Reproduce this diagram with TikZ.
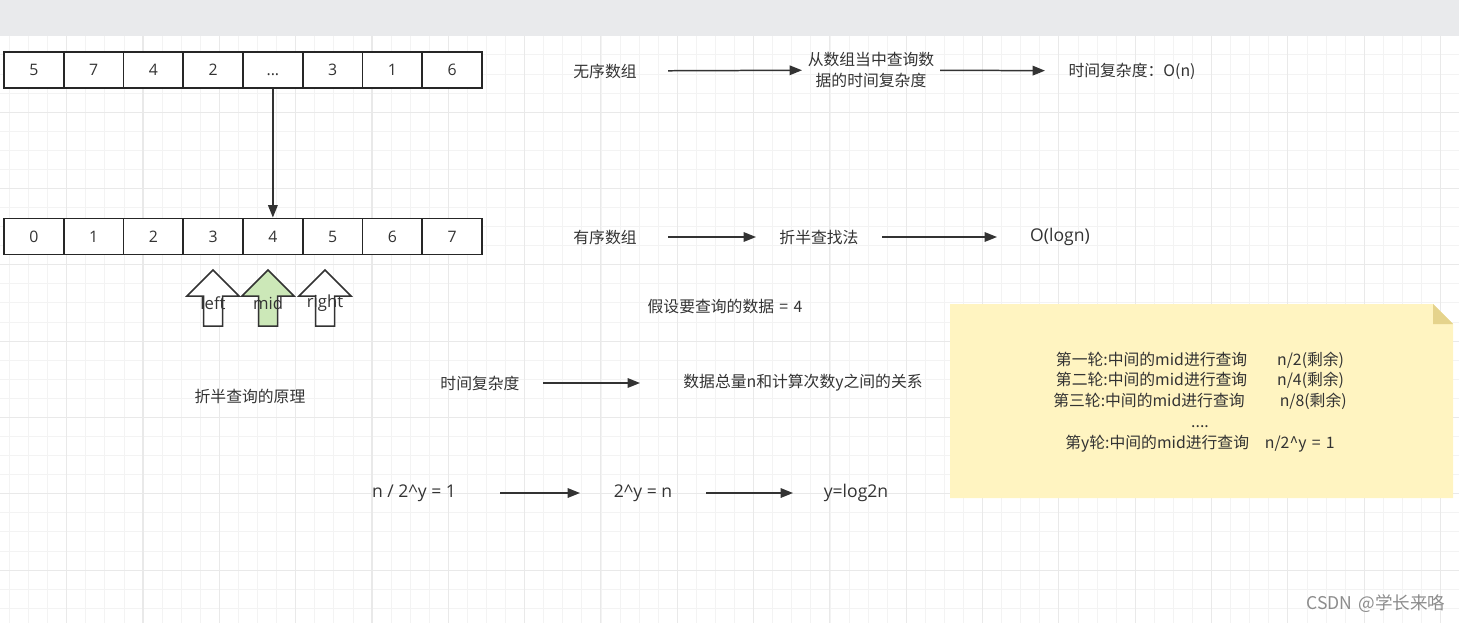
\documentclass[tikz,border=0pt]{standalone}
\usepackage{fontspec}
\setmainfont{Noto Sans CJK SC}[WordSpace=1.5]
\newfontfamily\latinfont{Open Sans}
\usepackage{xcolor}
\usepackage{tikz}
\usetikzlibrary{positioning, arrows.meta}

\definecolor{inkgray}{HTML}{333333}
\definecolor{cellline}{HTML}{262626}
\definecolor{topbar}{HTML}{E9EAEC}
\definecolor{gridminor}{HTML}{F3F3F3}
\definecolor{gridmajor}{HTML}{E9E9E9}
\definecolor{midgreen}{HTML}{CCE8B8}
\definecolor{notefill}{HTML}{FFF4C1}
\definecolor{notefold}{HTML}{E5D38C}
\definecolor{watermark}{HTML}{8C8C8C}

\def\gapcell{.\kern0pt.\kern0pt.}

\begin{document}
\begin{tikzpicture}[
    x=0.02cm, y=-0.02cm,
    font=\fontsize{9}{11.9}\selectfont,
    text=inkgray,
    cell/.style={
        draw=cellline,
        line width=1.1pt,
        fill=white,
        minimum width=1.195cm,
        minimum height=0.72cm,
        inner sep=0pt,
        font=\latinfont\fontsize{9}{10}\selectfont
    },
    lbl/.style={
        minimum width=#1*0.02cm,
        inner sep=0pt,
        outer sep=0pt,
        align=center
    },
    lbl/.default=126,
    latin/.style={font=\latinfont\fontsize{10}{12}\selectfont},
    flow/.style={-{Triangle[length=7pt, width=5.4pt]}, line width=0.85pt, draw=inkgray},
    blockarrow/.style={draw=inkgray, line width=0.85pt, line join=miter},
    minorgrid/.style={draw=gridminor, line width=0.5pt},
    majorgrid/.style={draw=gridmajor, line width=0.6pt}
]

\useasboundingbox (0,0) rectangle (1459,623);

% === CANVAS GRID ===
\foreach \k in {0,...,76}
    \draw [minorgrid] ({9.5+19.08*\k},36) -- ({9.5+19.08*\k},623);
\foreach \k in {0,...,30}
    \draw [minorgrid] (0,{35.8+19.08*\k}) -- (1459,{35.8+19.08*\k});
\foreach \k in {0,...,18}
    \draw [majorgrid] ({66.7+76.32*\k},36) -- ({66.7+76.32*\k},623);
\foreach \k in {1,...,7}
    \draw [majorgrid] (0,{35.8+76.32*\k}) -- (1459,{35.8+76.32*\k});
\fill [topbar] (0,0) rectangle (1459,36);

% === ARRAYS ===
\foreach \v [count=\i] in {5,7,4,2,\gapcell,3,1,6}
    \node [cell] (u\i) at ({4+59.75*(\i-0.5)},70) {\vphantom{0}\v};
\foreach \v in {0,...,7}
    \node [cell] (s\v) at ({4+59.75*(\v+0.5)},236.5) {\v};

\draw [flow] (u5) -- (s4);

% === POINTERS ===
\foreach \nm/\cx/\col in {left/213/white, mid/268/midgreen, right/325/white} {
    \draw [blockarrow, fill=\col] (\cx,270) -- ++(26,26) -- ++(-16.5,0) -- ++(0,30)
        -- ++(-19,0) -- ++(0,-30) -- ++(-16.5,0) -- cycle;
    \node [font=\latinfont\fontsize{9.5}{11}\selectfont] (ptr\nm) at (\cx,303) {\nm};
}

\node (principle) at (250,396) {折半查询的原理};

% === UNSORTED ===
\node [lbl] (unsorted) at (605,71) {无序数组};
\node [lbl=138] (query) at (871,70) {从数组当中查询数\\据的时间复杂度};
\node [lbl=174] (costn) at (1132,71) {时间复杂度：O(n)};

\draw [flow] (unsorted) -- (query);
\draw [flow] (query) -- (costn);

% === SORTED ===
\node [lbl] (sorted) at (605,237) {有序数组};
\node [lbl] (halfsearch) at (819,237) {折半查找法};
\node [lbl, latin] (costlog) at (1060,237) {O(logn)};

\draw [flow] (sorted) -- (halfsearch);
\draw [flow] (halfsearch) -- (costlog);

\node (assume) at (725,306) {假设要查询的数据 = 4};

% === COMPLEXITY ===
\node [lbl] (complexity) at (480,383) {时间复杂度};
\node [lbl=326] (relation) at (803,383) {数据总量n和计算次数y之间的关系};

\draw [flow] (complexity) -- (relation);

\node [lbl=172, latin] (eqa) at (414,493) {n / 2\textasciicircum y = 1};
\node [lbl, latin] (eqb) at (643,493) {2\textasciicircum y = n};
\node [lbl, latin] (eqc) at (856,493) {y=log2n};

\draw [flow] (eqa) -- (eqb);
\draw [flow] (eqb) -- (eqc);

% === NOTE ===
\fill [notefill] (950,304) -- (1433,304) -- (1453,324) -- (1453,498) -- (950,498) -- cycle;
\fill [notefold] (1433,304) -- (1453,324) -- (1433,324) -- cycle;
\node [align=center] (rounds) at (1200,402) {
    第一轮:中间的mid进行查询\hspace{17pt}n/2(剩余)\\
    第二轮:中间的mid进行查询\hspace{17pt}n/4(剩余)\\
    第三轮:中间的mid进行查询\hspace{20pt}n/8(剩余)\\
    ....\\
    第y轮:中间的mid进行查询\hspace{9pt}n/2\textasciicircum y = 1
};

\node [text=watermark, font=\fontsize{10}{12}\selectfont] (mark) at (1376,604) {CSDN @学长来咯};

\end{tikzpicture}
\end{document}
